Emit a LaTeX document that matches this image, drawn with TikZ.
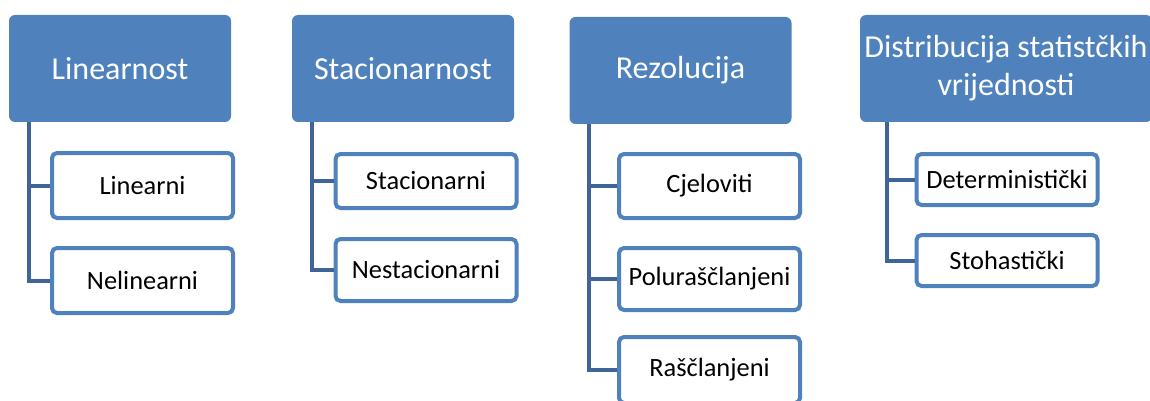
\documentclass[tikz,border=0pt]{standalone}
\usepackage{fontspec}
\setmainfont{Carlito}
\usepackage{tikz}
\definecolor{headblue}{RGB}{79,129,189}
\definecolor{linkblue}{RGB}{63,101,152}

\begin{document}
\begin{tikzpicture}[x=1pt,y=-1pt,
    head/.style={rectangle,rounded corners=6pt,fill=headblue,text=white,inner sep=0pt,align=center,
      font=\fontsize{32}{38}\selectfont,minimum width=222pt,minimum height=107pt},
    leaf/.style={rectangle,rounded corners=5pt,draw=headblue,line width=4pt,fill=white,inner sep=0pt,
      font=\fontsize{26.4}{31}\selectfont,minimum width=181pt},
    link/.style={draw=linkblue,line width=4pt}]

    \useasboundingbox (0,0) rectangle (1150,401);

    % The headings
    \node [head] at (120,68.5) (lin) {Linearnost};
    \node [head] at (403,68.5) (sta) {Stacionarnost};
    \node [head] at (680.5,70.5) (rez) {Rezolucija};
    \node [head,minimum width=292pt] at (1006,68.5) (dis) {Distribucija statistčkih\\vrijednosti};

    % The leaves
    \node [leaf,minimum height=65pt] at (142.5,185.5) (lin1) {Linearni};
    \node [leaf,minimum height=65pt] at (142.5,280.5) (lin2) {Nelinearni};
    \node [leaf,minimum height=54pt] at (426,181) (sta1) {Stacionarni};
    \node [leaf,minimum height=62pt] at (426,270) (sta2) {Nestacionarni};
    \node [leaf,minimum height=64pt] at (709.5,186) (rez1) {Cjeloviti};
    \node [leaf,minimum height=62pt] at (709.5,279) (rez2) {Poluraščlanjeni};
    \node [leaf,minimum height=66pt] at (709.5,370) (rez3) {Raščlanjeni};
    \node [leaf,minimum height=51pt] at (1007,179.5) (dis1) {Deterministički};
    \node [leaf,minimum height=51pt] at (1007,260.5) (dis2) {Stohastički};

    % Branches
    \draw [link] ([xshift=20pt]lin.south west) |- (lin1.west);
    \draw [link] ([xshift=20pt]lin.south west) |- (lin2.west);
    \draw [link] ([xshift=20pt]sta.south west) |- (sta1.west);
    \draw [link] ([xshift=20pt]sta.south west) |- (sta2.west);
    \draw [link] ([xshift=20pt]rez.south west) |- (rez1.west);
    \draw [link] ([xshift=20pt]rez.south west) |- (rez2.west);
    \draw [link] ([xshift=20pt]rez.south west) |- (rez3.west);
    \draw [link] ([xshift=27pt]dis.south west) |- (dis1.west);
    \draw [link] ([xshift=27pt]dis.south west) |- (dis2.west);
\end{tikzpicture}
\end{document}
